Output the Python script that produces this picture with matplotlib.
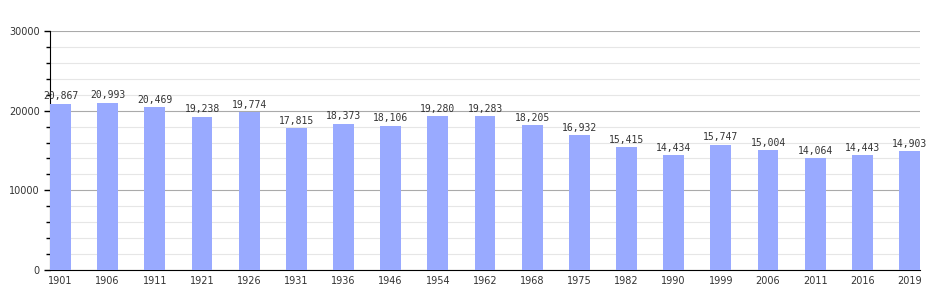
import matplotlib
matplotlib.use("Agg")
import matplotlib.pyplot as plt
from matplotlib.ticker import MultipleLocator

years = ["1901", "1906", "1911", "1921", "1926", "1931", "1936", "1946", "1954", "1962",
         "1968", "1975", "1982", "1990", "1999", "2006", "2011", "2016", "2019"]
population = [20867, 20993, 20469, 19238, 19774, 17815, 18373, 18106, 19280, 19283,
              18205, 16932, 15415, 14434, 15747, 15004, 14064, 14443, 14903]

fig = plt.figure(figsize=(9.5, 3), dpi=100)
ax = fig.add_axes([50 / 950, 30 / 300, 870 / 950, 239 / 300])

bar_w = 0.445
x = list(range(len(years)))
ax.bar(x, population, width=bar_w, color="#99aaff", zorder=3)

# value labels sit a little above each bar
for xi, v in zip(x, population):
    ax.text(xi, v + 300, f"{v:,}", ha="center", va="bottom", fontsize=7,
            family="DejaVu Sans Mono", color="#333333")

ax.set_xlim(-bar_w / 2, len(years) - 1 + bar_w / 2)
ax.set_ylim(0, 30000)
ax.set_xticks(x)
ax.set_xticklabels(years, fontsize=7, color="#333333")
ax.tick_params(axis="x", length=0, pad=4)

ax.yaxis.set_major_locator(MultipleLocator(10000))
ax.yaxis.set_minor_locator(MultipleLocator(2000))
ax.tick_params(axis="y", which="major", labelsize=7, labelcolor="#333333", length=4, width=1)
ax.tick_params(axis="y", which="minor", length=3, width=1)

ax.grid(axis="y", which="minor", color="#e6e6e6", linewidth=0.8, zorder=0)
ax.grid(axis="y", which="major", color="#aaaaaa", linewidth=0.8, zorder=1)

for s in ["top", "right"]:
    ax.spines[s].set_visible(False)
ax.spines["left"].set_color("black")
ax.spines["bottom"].set_color("black")

fig.savefig("out.png", dpi=100)
